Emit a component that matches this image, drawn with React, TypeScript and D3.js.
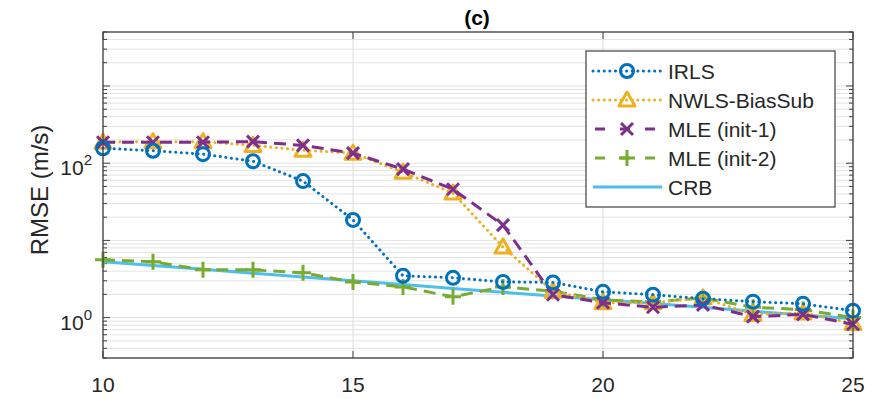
import * as d3 from 'd3';

// x values (dB / index) and RMSE readings for each method
const xs = [10, 11, 12, 13, 14, 15, 16, 17, 18, 19, 20, 21, 22, 23, 24, 25];
const irls = [156, 145, 131, 106, 58.6, 18.4, 3.48, 3.28, 2.9, 2.85, 2.16, 1.98, 1.76, 1.61, 1.51, 1.23];
const nwls = [187, 190, 190, 170, 147, 135, 76.6, 41, 8.2, 2.2, 1.56, 1.56, 1.8, 1.1, 1.15, 0.84];
const mle1 = [187, 187, 187, 190, 170, 135, 83.7, 46, 15.8, 1.98, 1.56, 1.36, 1.46, 1.03, 1.1, 0.82];
const mle2 = [5.6, 5.3, 4.16, 4.16, 3.8, 2.9, 2.5, 1.86, 2.5, 2.2, 1.7, 1.6, 1.8, 1.36, 1.27, 1.0];
const crb = [5.3, 4.72, 4.22, 3.76, 3.36, 3.0, 2.68, 2.39, 2.13, 1.9, 1.7, 1.52, 1.36, 1.21, 1.08, 0.97];

const xTicks = [10, 15, 20, 25];
const yTicks = [1, 100];
const yTickExp = ['0', '2'];

const W = 876;
const H = 399;
const M = { left: 103, right: 853, top: 32, bottom: 358 };
const FONT = '"Liberation Sans", Arial, Helvetica, sans-serif';

type Marker = 'circle' | 'triangle' | 'x' | 'plus' | 'none';

interface Series {
  name: string;
  values: number[];
  color: string;
  dash: string;
  marker: Marker;
}

const DOT = '0.1 5.5';
const DASH = '12 7';

const series: Series[] = [
  { name: 'CRB', values: crb, color: '#4DBEEE', dash: 'none', marker: 'none' },
  { name: 'MLE (init-2)', values: mle2, color: '#77AC30', dash: DASH, marker: 'plus' },
  { name: 'NWLS-BiasSub', values: nwls, color: '#EDB120', dash: DOT, marker: 'triangle' },
  { name: 'MLE (init-1)', values: mle1, color: '#7E2F8E', dash: DASH, marker: 'x' },
  { name: 'IRLS', values: irls, color: '#0072BD', dash: DOT, marker: 'circle' },
];
const legendOrder = ['IRLS', 'NWLS-BiasSub', 'MLE (init-1)', 'MLE (init-2)', 'CRB'];

function MarkerShape({ type, x, y, color }: { type: Marker; x: number; y: number; color: string }) {
  const sw = 3;
  if (type === 'circle') {
    return <circle cx={x} cy={y} r={6.5} fill="none" stroke={color} strokeWidth={sw} />;
  }
  if (type === 'triangle') {
    const s = 8;
    return (
      <path
        d={`M${x},${y - s}L${x + s},${y + s * 0.75}L${x - s},${y + s * 0.75}Z`}
        fill="none"
        stroke={color}
        strokeWidth={sw}
        strokeLinejoin="round"
      />
    );
  }
  if (type === 'x') {
    const s = 6;
    return (
      <path
        d={`M${x - s},${y - s}L${x + s},${y + s}M${x - s},${y + s}L${x + s},${y - s}`}
        stroke={color}
        strokeWidth={sw}
      />
    );
  }
  if (type === 'plus') {
    const s = 8;
    return (
      <path d={`M${x - s},${y}L${x + s},${y}M${x},${y - s}L${x},${y + s}`} stroke={color} strokeWidth={sw} />
    );
  }
  return null;
}

export default function App() {
  const x = d3.scaleLinear().domain([10, 25]).range([M.left, M.right]);
  const y = d3.scaleLog().domain([0.3, 5000]).range([M.bottom, M.top]);

  const line = d3
    .line<number>()
    .x((_, i) => x(xs[i]))
    .y((d) => y(d));

  // log grid values 1..9 x 10^k inside the domain
  const minor: number[] = [];
  for (let k = -1; k <= 3; k++) {
    for (let m = 1; m <= 9; m++) {
      const v = m * Math.pow(10, k);
      if (v >= 0.3 && v <= 5000) minor.push(v);
    }
  }

  const legX = 586;
  const legY = 51;
  const legW = 249;
  const legH = 156;
  const rowH = 29;

  return (
    <svg width={W} height={H} style={{ position: 'absolute', left: 0, top: 0, background: '#fff' }} fontFamily={FONT}>
      <rect x={0} y={0} width={W} height={H} fill="#fff" />

      {/* grid */}
      <g stroke="#e3e3e3" strokeWidth={1}>
        {minor.map((v) => (
          <line key={'h' + v} x1={M.left} x2={M.right} y1={y(v)} y2={y(v)} />
        ))}
        {xTicks.map((t) => (
          <line key={'v' + t} x1={x(t)} x2={x(t)} y1={M.top} y2={M.bottom} stroke="#dcdcdc" />
        ))}
      </g>

      {/* tick marks */}
      <g stroke="#404040" strokeWidth={1}>
        {minor.map((v) => {
          const len = Number.isInteger(Math.log10(v)) ? 7 : 4;
          return (
            <g key={'t' + v}>
              <line x1={M.left} x2={M.left + len} y1={y(v)} y2={y(v)} />
              <line x1={M.right} x2={M.right - len} y1={y(v)} y2={y(v)} />
            </g>
          );
        })}
        {xTicks.map((t) => (
          <g key={'xt' + t}>
            <line x1={x(t)} x2={x(t)} y1={M.bottom} y2={M.bottom - 7} />
            <line x1={x(t)} x2={x(t)} y1={M.top} y2={M.top + 7} />
          </g>
        ))}
      </g>

      {/* series */}
      {series.map((s) => (
        <g key={s.name}>
          <path
            d={line(s.values) || ''}
            fill="none"
            stroke={s.color}
            strokeWidth={3}
            strokeDasharray={s.dash}
            strokeLinecap={s.dash === DOT ? 'round' : 'butt'}
          />
          {s.values.map((v, i) => (
            <MarkerShape key={i} type={s.marker} x={x(xs[i])} y={y(v)} color={s.color} />
          ))}
        </g>
      ))}

      {/* axes box */}
      <rect
        x={M.left}
        y={M.top}
        width={M.right - M.left}
        height={M.bottom - M.top}
        fill="none"
        stroke="#404040"
        strokeWidth={1.3}
      />

      {/* x tick labels */}
      {xTicks.map((t) => (
        <text key={'xl' + t} x={x(t)} y={392} textAnchor="middle" fontSize={21} fill="#262626">
          {t}
        </text>
      ))}

      {/* y tick labels */}
      {yTicks.map((t, i) => (
        <text key={'yl' + t} x={92} y={y(t) + 12} textAnchor="end" fontSize={21} fill="#262626">
          10
          <tspan dy={-10} fontSize={15}>
            {yTickExp[i]}
          </tspan>
        </text>
      ))}

      {/* y label */}
      <text transform="translate(48,190) rotate(-90)" textAnchor="middle" fontSize={24} fill="#262626">
        RMSE (m/s)
      </text>

      {/* title */}
      <text x={477} y={25} textAnchor="middle" fontSize={21} fontWeight="bold" fill="#000">
        (c)
      </text>

      {/* legend */}
      <rect x={legX} y={legY} width={legW} height={legH} fill="#fff" stroke="#404040" strokeWidth={1.2} />
      {legendOrder.map((name, i) => {
        const s = series.find((d) => d.name === name)!;
        const cy = legY + 20 + i * rowH;
        return (
          <g key={'lg' + name}>
            <line
              x1={legX + 7}
              x2={legX + 76}
              y1={cy}
              y2={cy}
              stroke={s.color}
              strokeWidth={3}
              strokeDasharray={s.dash === DASH ? '10 15' : s.dash}
              strokeDashoffset={s.dash === DASH ? -2 : 0}
              strokeLinecap={s.dash === DOT ? 'round' : 'butt'}
            />
            <MarkerShape type={s.marker} x={legX + 41} y={cy} color={s.color} />
            <text x={legX + 82} y={cy + 8} fontSize={21} fill="#262626">
              {name}
            </text>
          </g>
        );
      })}
    </svg>
  );
}
